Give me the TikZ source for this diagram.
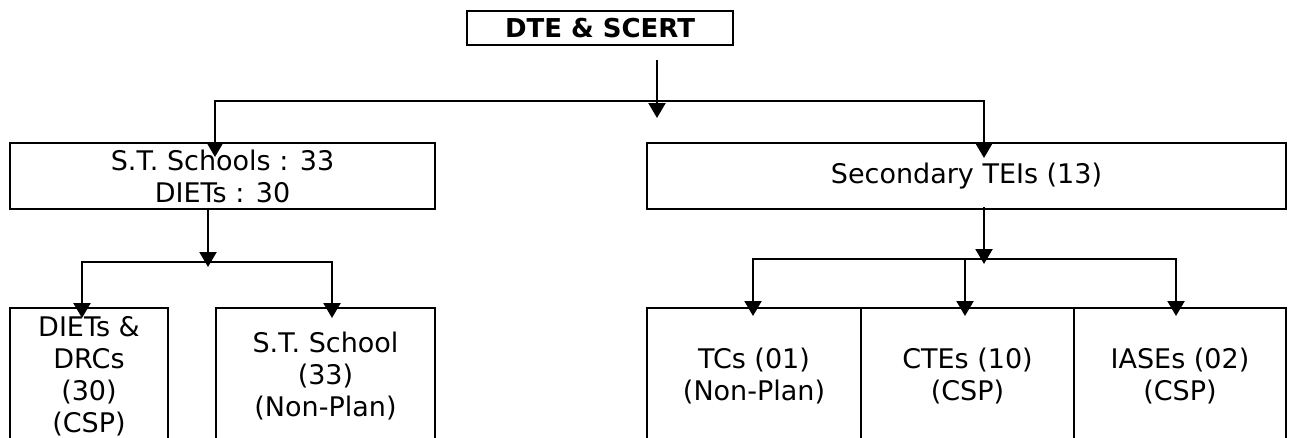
\documentclass[tikz,border=0pt]{standalone}
\usepackage{fontspec}
\setmainfont{DejaVu Sans}
\usetikzlibrary{arrows.meta}
\tikzset{
  box/.style={draw, line width=2.8pt, inner sep=0pt, align=center,
    font=\fontsize{27}{32}\selectfont},
  topbox/.style={draw, line width=2.8pt, inner sep=0pt, align=center,
    font=\fontsize{26}{30}\selectfont\bfseries},
  conn/.style={line width=2.2pt},
  tip/.tip={Triangle[width=17pt,length=15pt]},
  arr/.style={conn, -tip},
  both/.style={conn, tip-tip}
}
\begin{document}
\begin{tikzpicture}[x=1pt,y=-1pt]
\useasboundingbox (0,0) rectangle (1289,437);
% boxes
\node[topbox, minimum width=266pt, minimum height=34pt] (top) at (600,28) {DTE \& SCERT};
\node[box, minimum width=425pt, minimum height=66pt] (L1) at (222.5,176) {S.T. Schools : 33\\DIETs : 30};
\node[box, minimum width=639pt, minimum height=66pt] (R1) at (966.5,176) {Secondary TEIs (13)};
\node[box, minimum width=158pt, minimum height=136pt] (A) at (89,376) {DIETs \&\\DRCs\\(30)\\(CSP)};
\node[box, minimum width=219pt, minimum height=136pt] (B) at (325.5,376) {S.T. School\\(33)\\(Non-Plan)};
\node[box, minimum width=214pt, minimum height=136pt] (C) at (754,376) {TCs (01)\\(Non-Plan)};
\node[box, minimum width=213pt, minimum height=136pt] (D) at (967.5,376) {CTEs (10)\\(CSP)};
\node[box, minimum width=212pt, minimum height=136pt] (E) at (1180,376) {IASEs (02)\\(CSP)};
% junction coordinates
\coordinate (t0) at (657,60);
\coordinate (t1) at (657,118);
\coordinate (bus) at (600,101);
\coordinate (la) at (215,157);
\coordinate (ra) at (984,158);
\coordinate (l0) at (208,209);
\coordinate (l1) at (208,267);
\coordinate (lbus) at (200,262);
\coordinate (aa) at (82,318);
\coordinate (ba) at (332,318);
\coordinate (r0) at (984,207);
\coordinate (r1) at (984,264);
\coordinate (rbus) at (900,259);
\coordinate (ca) at (753,316);
\coordinate (dtop) at (965,259);
\coordinate (da) at (965,316);
\coordinate (ea) at (1176,316);
% connectors
\draw[arr] (t0) -- (t1);
\draw[both] (la) |- (bus) -| (ra);
\draw[arr] (l0) -- (l1);
\draw[both] (aa) |- (lbus) -| (ba);
\draw[arr] (r0) -- (r1);
\draw[both] (ca) |- (rbus) -| (ea);
\draw[arr] (dtop) -- (da);
\end{tikzpicture}
\end{document}
